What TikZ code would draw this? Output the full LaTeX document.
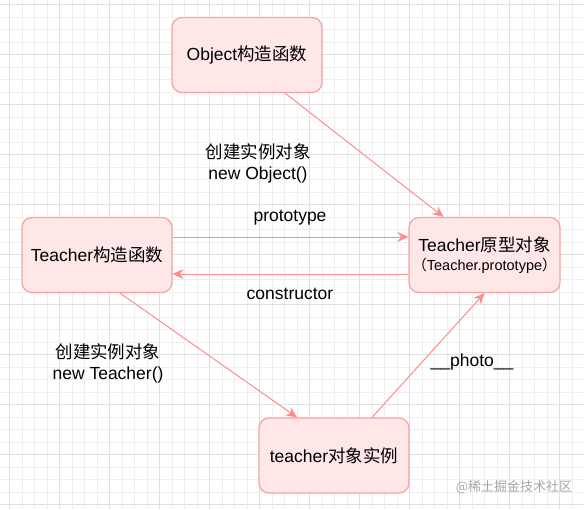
\documentclass[tikz,border=0pt]{standalone}
\usepackage{fontspec}
\setmainfont{Liberation Sans}
\newfontfamily\cjk{Noto Sans CJK SC}
\usetikzlibrary{positioning, arrows.meta}

\definecolor{boxfill}{HTML}{FFE6E7}
\definecolor{boxline}{HTML}{F4A3A3}
\definecolor{linkred}{HTML}{FF8C8C}
\definecolor{gridminor}{HTML}{EFEFEF}
\definecolor{gridmajor}{HTML}{E0E0E0}

\tikzset{
  objbox/.style={draw=boxline, fill=boxfill, line width=1.2pt, rounded corners=10pt,
    minimum width=150pt, minimum height=75pt, align=center,
    font=\fontsize{17.5}{21}\selectfont},
  link/.style={draw=linkred, line width=1pt, -{Stealth[length=11pt, width=10pt]}},
  lbl/.style={align=center, inner sep=0pt, font=\fontsize{17.5}{21}\selectfont},
}

\begin{document}
\begin{tikzpicture}[x=1pt, y=-1pt]
        % Nền và lưới
        \useasboundingbox[fill=white] (0,0) rectangle (584,509);
        \foreach \x in {9.3,21.8,...,584} {
            \draw[gridminor, line width=0.6pt] (\x,0) -- (\x,509);
        }
        \foreach \y in {4.5,17,...,509} {
            \draw[gridminor, line width=0.6pt] (0,\y) -- (584,\y);
        }
        \foreach \x in {9.3,59.3,...,584} {
            \draw[gridmajor, line width=0.6pt] (\x,0) -- (\x,509);
        }
        \foreach \y in {4.5,54.5,...,509} {
            \draw[gridmajor, line width=0.6pt] (0,\y) -- (584,\y);
        }

        % Các khối
        \node[objbox] (objfn) at (247,55) {Object{\cjk 构造函数}};
        \node[objbox] (proto) at (484.5,255) {Teacher{\cjk 原型对象}\\[-2pt]
            {\fontsize{14.5}{16}\selectfont{\cjk （}Teacher.prototype{\cjk ）}}};
        \node[objbox] (tfn) at (97,255) {Teacher{\cjk 构造函数}};
        \node[objbox] (inst) at (334,455.5) {teacher{\cjk 对象实例}};

        % Mũi tên
        \draw[link] ([xshift=38pt]objfn.south) -- ([xshift=-41pt]proto.north);
        \draw[link] ([yshift=18pt]tfn.east) -- ([yshift=18pt]proto.west);
        \draw[link] ([yshift=-19pt]proto.west) -- ([yshift=-19pt]tfn.east);
        \draw[link] ([xshift=23pt]tfn.south) -- ([xshift=-37pt]inst.north);
        \draw[link] ([xshift=38pt]inst.north) -- (proto.south);

        % Nhãn
        \node[lbl] (newobj) at (258,163) {{\cjk 创建实例对象}\\new Object()};
        \node[lbl] (protolbl) at (290,218) {prototype};
        \node[lbl] (conslbl) at (290,294) {constructor};
        \node[lbl] (newteacher) at (108,363) {{\cjk 创建实例对象}\\new Teacher()};
        \node[lbl] (photolbl) at (472,362) {\_\_photo\_\_};
        \node[inner sep=0pt, text=black!35, font=\fontsize{13}{15}\selectfont] (mark) at (514,487) {{\cjk @稀土掘金技术社区}};
      \end{tikzpicture}
\end{document}
